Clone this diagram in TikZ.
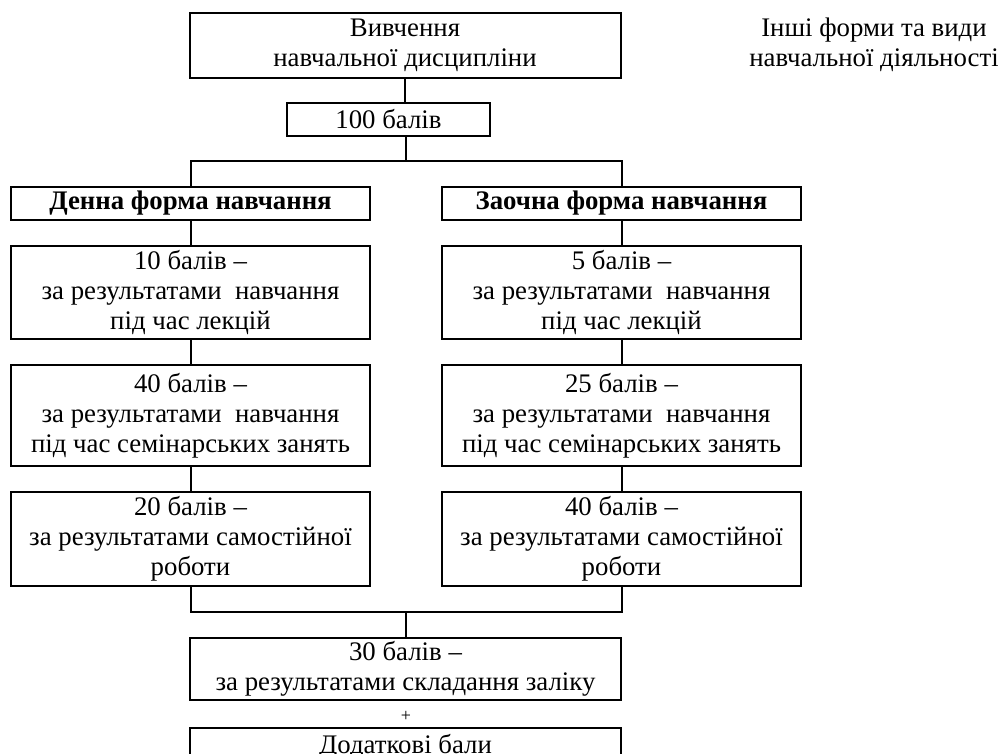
\documentclass[tikz,border=0pt]{standalone}
\usepackage{fontspec}
\setmainfont{Liberation Serif}
\usetikzlibrary{positioning}

\begin{document}
\begin{tikzpicture}[
  x=0.5pt, y=-0.5pt, line width=1pt,
  font=\fontsize{13.4}{15}\selectfont,
  box/.style={draw, align=center, inner sep=0pt},
  colbox/.style={box, minimum width=179.5pt},
  wide/.style={box, minimum width=215.5pt}]
  \useasboundingbox (0,0) rectangle (998,754);
  % top of the scheme
  \node[wide, minimum height=32.5pt] (study) at (405,45.5) {Вивчення\\навчальної дисципліни};
  \node[box, minimum width=101.5pt, minimum height=16.5pt] (total) at (388.5,119.5) {100 балів};
  \node[align=center] (other) at (874,45) {Інші форми та види\\навчальної діяльності};
  \coordinate (split) at (406,161);
  % day form
  \node[colbox, minimum height=16.5pt] (dh) at (190.5,203.5) {\textbf{Денна форма навчання}};
  \node[colbox, minimum height=46.5pt] (d1) at (190.5,292.5) {10 балів --\\за результатами~~навчання\\під час лекцій};
  \node[colbox, minimum height=50.5pt] (d2) at (190.5,415.5) {40 балів --\\за результатами~~навчання\\під час семінарських занять};
  \node[colbox, minimum height=47pt] (d3) at (190.5,539) {20 балів --\\за результатами самостійної\\роботи};
  % extramural form
  \node[colbox, minimum height=16.5pt] (zh) at (621.5,203.5) {\textbf{Заочна форма навчання}};
  \node[colbox, minimum height=46.5pt] (z1) at (621.5,292.5) {5 балів --\\за результатами~~навчання\\під час лекцій};
  \node[colbox, minimum height=50.5pt] (z2) at (621.5,415.5) {25 балів --\\за результатами~~навчання\\під час семінарських занять};
  \node[colbox, minimum height=47pt] (z3) at (621.5,539) {40 балів --\\за результатами самостійної\\роботи};
  % bottom
  \coordinate (merge) at (406,612);
  \node[wide, minimum height=31pt] (exam) at (405.5,669) {30 балів --\\за результатами складання заліку};
  \node[font=\fontsize{9}{11}\selectfont, inner sep=0pt] (plus) at (406,716) {+};
  \node[wide, anchor=north, inner ysep=3pt, text depth=30pt] (extra) at (405.5,727) {Додаткові бали};
  \draw (study.south) -- (study.south |- total.north);
  \draw (total.south -| split) -- (split);
  \draw (dh.north) -- (dh.north |- split) -- (zh.north |- split) -- (zh.north);
  \foreach \a/\b in {dh/d1, d1/d2, d2/d3, zh/z1, z1/z2, z2/z3} \draw (\a) -- (\b);
  \draw (d3.south) -- (d3.south |- merge) -- (z3.south |- merge) -- (z3.south);
  \draw (merge) -- (merge |- exam.north);
\end{tikzpicture}
\end{document}
